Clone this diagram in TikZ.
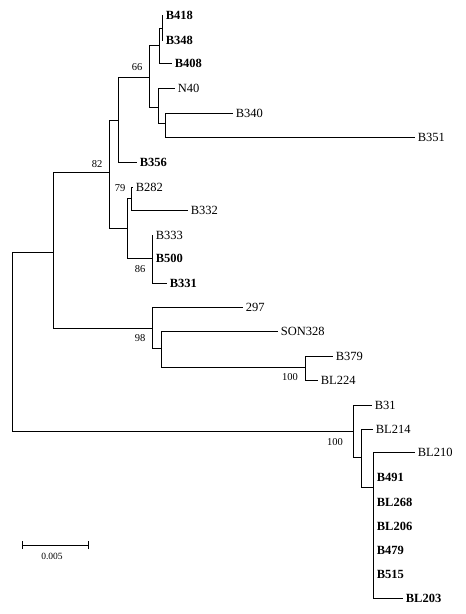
\documentclass[tikz,border=0pt]{standalone}
\usepackage{fontspec}
\setmainfont{Liberation Serif}

\begin{document}
\begin{tikzpicture}[x=1pt, y=-1pt, line width=0.8pt,
    leaf/.style={anchor=west, inner sep=2.5pt, text depth=0pt, font=\fontsize{12.5}{14}\selectfont},
    boldleaf/.style={leaf, font=\fontsize{12.5}{14}\selectfont\bfseries},
    boot/.style={inner sep=0pt, font=\fontsize{10.5}{12}\selectfont}]
    \useasboundingbox (0,0) rectangle (466,614);

    % Internal nodes (x = distance, y = where the parent branch joins)
    \coordinate (root)  at (12,252);
    \coordinate (nA)    at (53,252);
    \coordinate (n82)   at (109,172);
    \coordinate (nB356) at (118,120);
    \coordinate (n66)   at (149,77);
    \coordinate (nB408) at (159,45);
    \coordinate (nB418) at (162,28);
    \coordinate (nN40)  at (158,107);
    \coordinate (nB340) at (165,123);
    \coordinate (nB333) at (127,228);
    \coordinate (n79)   at (131,198);
    \coordinate (n86)   at (152,258);
    \coordinate (n98)   at (152,328);
    \coordinate (nSON)  at (161,348);
    \coordinate (n100a) at (305,367);
    \coordinate (n100b) at (353,431);
    \coordinate (nBL214) at (361,457);
    \coordinate (nBL210) at (373,487);

    % Leaves
    \node[boldleaf] (B418)   at (163,15)  {B418};
    \node[boldleaf] (B348)   at (163,40)  {B348};
    \node[boldleaf] (B408)   at (172,63)  {B408};
    \node[leaf]     (N40)    at (175,88)  {N40};
    \node[leaf]     (B340)   at (233,113) {B340};
    \node[leaf]     (B351)   at (415,137) {B351};
    \node[boldleaf] (B356)   at (137,162) {B356};
    \node[leaf]     (B282)   at (133,187) {B282};
    \node[leaf]     (B332)   at (188,210) {B332};
    \node[leaf]     (B333)   at (153,235) {B333};
    \node[boldleaf] (B500)   at (153,258) {B500};
    \node[boldleaf] (B331)   at (167,283) {B331};
    \node[leaf]     (t297)   at (243,307) {297};
    \node[leaf]     (SON328) at (278,331) {SON328};
    \node[leaf]     (B379)   at (333,356) {B379};
    \node[leaf]     (BL224)  at (318,380) {BL224};
    \node[leaf]     (B31)    at (372,405) {B31};
    \node[leaf]     (BL214)  at (373,429) {BL214};
    \node[leaf]     (BL210)  at (415,452) {BL210};
    \node[boldleaf] (B491)   at (374,477) {B491};
    \node[boldleaf] (BL268)  at (374,502) {BL268};
    \node[boldleaf] (BL206)  at (374,526) {BL206};
    \node[boldleaf] (B479)   at (374,550) {B479};
    \node[boldleaf] (B515)   at (374,574) {B515};
    \node[boldleaf] (BL203)  at (403,598) {BL203};

    % Branches
    \foreach \p/\c in {root/nA, root/n100b, nA/n82, nA/n98,
                       n82/nB356, n82/nB333, nB356/n66, nB356/B356,
                       n66/nB408, n66/nN40, nB408/nB418, nB408/B408,
                       nB418/B418, nB418/B348, nN40/N40, nN40/nB340,
                       nB340/B340, nB340/B351, nB333/n79, nB333/n86,
                       n79/B282, n79/B332, n86/B333, n86/B500, n86/B331,
                       n98/t297, n98/nSON, nSON/SON328, nSON/n100a,
                       n100a/B379, n100a/BL224, n100b/B31, n100b/nBL214,
                       nBL214/BL214, nBL214/nBL210, nBL210/BL210,
                       nBL210/B491, nBL210/BL268, nBL210/BL206,
                       nBL210/B479, nBL210/B515, nBL210/BL203}
        \draw (\p) |- (\c);

    % Bootstrap values
    \node[boot] (bs66)  at (137,67)  {66};
    \node[boot] (bs82)  at (97,164)  {82};
    \node[boot] (bs79)  at (120,188) {79};
    \node[boot] (bs86)  at (140,269) {86};
    \node[boot] (bs98)  at (140,338) {98};
    \node[boot] (bs100a) at (290,377) {100};
    \node[boot] (bs100b) at (335,442) {100};

    % Scale bar
    \coordinate (sb1) at (22,545);
    \coordinate (sb2) at (88,545);
    \draw (sb1) -- (sb2);
    \draw ([yshift=-4pt]sb1) -- ([yshift=4pt]sb1);
    \draw ([yshift=-4pt]sb2) -- ([yshift=4pt]sb2);
    \node[boot, font=\fontsize{9.5}{11}\selectfont] (sblabel) at (52,556) {0.005};
\end{tikzpicture}
\end{document}
